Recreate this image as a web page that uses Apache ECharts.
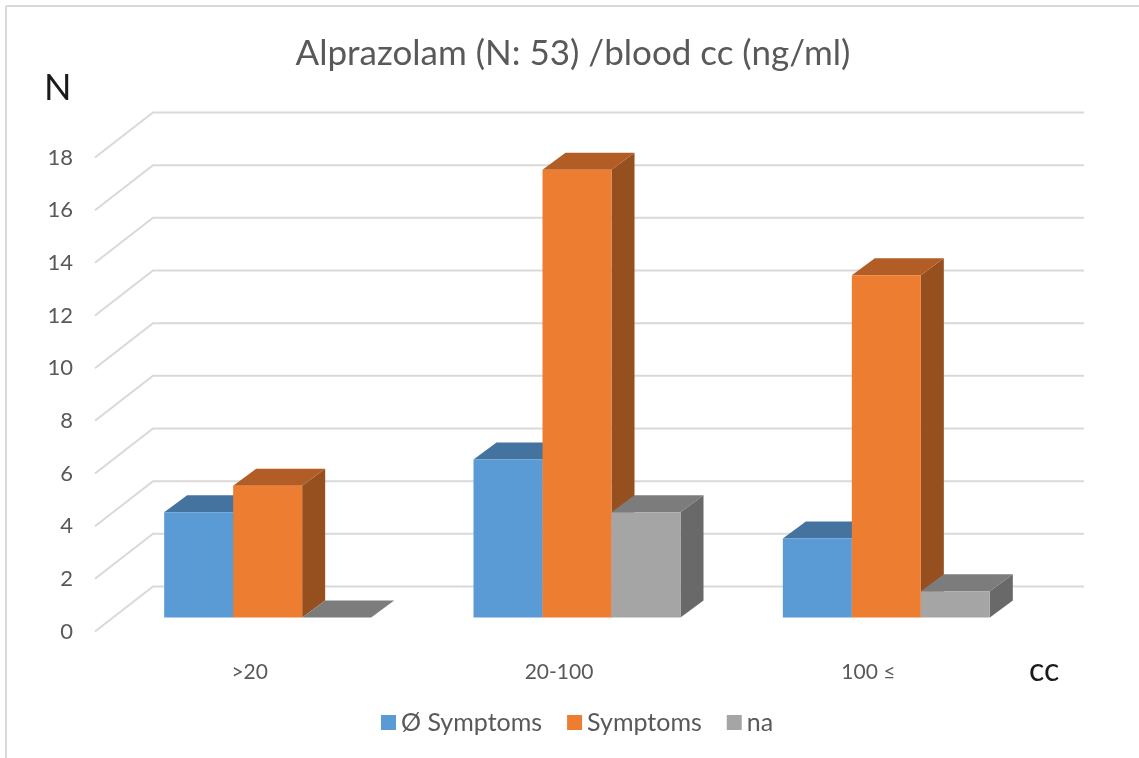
<!DOCTYPE html>
<html>
<head>
<meta charset="utf-8">
<style>
html, body { margin: 0; padding: 0; background: #fff; }
#chart { width: 1139px; height: 758px; }
</style>
<script src="https://cdn.jsdelivr.net/npm/echarts@6/dist/echarts.min.js"></script>
</head>
<body>
<div id="chart"></div>
<script>
var categories = ['>20', '20-100', '100 ≤'];
var noSymptoms = [4, 6, 3];
var symptoms = [5, 17, 13];
var na = [0, 4, 1];
var yTicks = [0, 2, 4, 6, 8, 10, 12, 14, 16, 18];

var FONT = 'Lato';
var BAR_W = 69;

// [front, top, side]
var blueFaces = ['#5b9bd5', '#44739f', '#3f6e9a'];
var orangeFaces = ['#ed7d31', '#b25d25', '#964f1f'];
var greyFaces = ['#a5a5a5', '#7c7c7c', '#696969'];

function toData(values) {
    return values.map(function (v, i) { return [i, v]; });
}

function polygon(points, color) {
    return { type: 'polygon', shape: { points: points }, style: { fill: color }, silent: true };
}

// 3d look: every bar is three polygons, based on the position the axes give
function bar3d(slot, faces) {
    return function (params, api) {
        var top = api.coord([api.value(0), api.value(1)]);
        var base = api.coord([api.value(0), 0]);
        var x0 = top[0] + 18 + (slot - 0.5) * BAR_W;
        var x1 = x0 + BAR_W;
        var yt = top[1] - 14;
        var yb = base[1] - 14;
        return {
            type: 'group',
            children: [
                polygon([[x1, yt], [x1 + 23, yt - 17], [x1 + 23, yb - 17], [x1, yb]], faces[2]),
                polygon([[x0, yt], [x0 + 23, yt - 17], [x1 + 23, yt - 17], [x1, yt]], faces[1]),
                polygon([[x0, yt], [x1, yt], [x1, yb], [x0, yb]], faces[0])
            ]
        };
    };
}

function wallLine(params, api) {
    var p = api.coord([0, api.value(0)]);
    var left = params.coordSys.x;
    var right = left + params.coordSys.width;
    return {
        type: 'polyline',
        shape: { points: [[left, p[1]], [left + 58, p[1] - 45], [right + 61, p[1] - 45]] },
        style: { stroke: '#d9d9d9', lineWidth: 2, fill: null },
        silent: true
    };
}

function barSeries(name, values, slot, faces) {
    return {
        name: name,
        type: 'custom',
        data: toData(values),
        encode: { x: 0, y: 1 },
        itemStyle: { color: faces[0] },
        renderItem: bar3d(slot, faces)
    };
}

var chart = echarts.init(document.getElementById('chart'));
chart.setOption({
    animation: false,
    backgroundColor: '#fff',
    title: {
        text: 'Alprazolam (N: 53) /blood cc (ng/ml)',
        left: 568,
        top: 31,
        textAlign: 'center',
        textStyle: { fontFamily: FONT, fontSize: 35, fontWeight: 'normal', color: '#595959' }
    },
    grid: { left: 95, width: 928, top: 157.5, height: 474 },
    xAxis: {
        type: 'category',
        data: categories,
        axisLine: { show: false },
        axisTick: { show: false },
        axisLabel: { margin: 30, fontFamily: FONT, fontSize: 21, color: '#595959' }
    },
    yAxis: {
        type: 'value',
        min: 0,
        max: 18,
        interval: 2,
        axisLine: { show: false },
        axisTick: { show: false },
        splitLine: { show: false },
        axisLabel: { margin: 22, padding: [0, 0, 8, 0], fontFamily: FONT, fontSize: 22, color: '#595959' }
    },
    legend: {
        data: ['Ø Symptoms', 'Symptoms', 'na'],
        left: 376,
        top: 705,
        icon: 'rect',
        itemWidth: 15,
        itemHeight: 15,
        itemGap: 25,
        textStyle: { fontFamily: FONT, fontSize: 25, color: '#595959' }
    },
    graphic: [
        { type: 'text', left: 44, top: 70, style: { text: 'N', font: '36px ' + FONT, fill: '#1a1a1a' } },
        { type: 'text', left: 1029, top: 655, style: { text: 'cc', font: '32px ' + FONT, fill: '#1a1a1a' } },
        { type: 'line', shape: { x1: 6, y1: 6, x2: 6, y2: 758 }, style: { stroke: '#d9d9d9', lineWidth: 2 } },
        { type: 'line', shape: { x1: 6, y1: 6, x2: 1139, y2: 6 }, style: { stroke: '#d9d9d9', lineWidth: 2 } }
    ],
    series: [
        { type: 'custom', data: yTicks.map(function (t) { return [t]; }), encode: { y: 0 }, renderItem: wallLine, silent: true },
        barSeries('Ø Symptoms', noSymptoms, -1, blueFaces),
        barSeries('Symptoms', symptoms, 0, orangeFaces),
        barSeries('na', na, 1, greyFaces)
    ]
});

window.addEventListener('resize', function () {
    chart.resize();
});
</script>
</body>
</html>
